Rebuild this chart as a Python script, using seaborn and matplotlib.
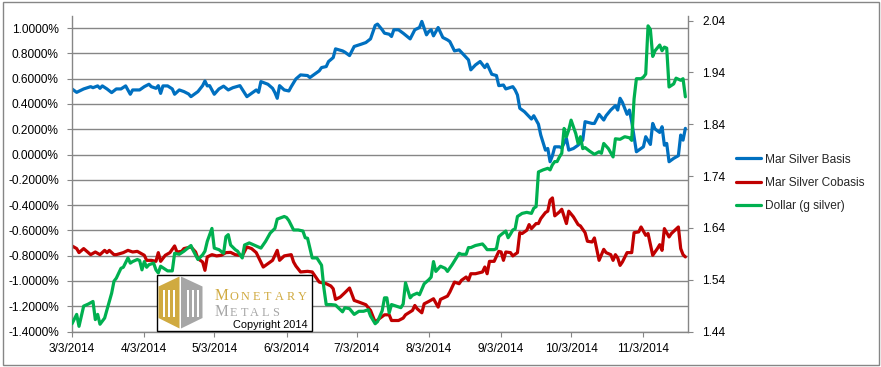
import numpy as np
import pandas as pd
import matplotlib
matplotlib.use("Agg")
import matplotlib.pyplot as plt
import seaborn as sns
from matplotlib.patches import Rectangle, Polygon
from matplotlib.lines import Line2D

# ---------------- data ----------------
start_date = "2014-03-03"
end_date = "2014-11-22"

series_names = ["Mar Silver Basis", "Mar Silver Cobasis", "Dollar (g silver)"]
series_colors = ["#0070C0", "#C00000", "#00B050"]

basis_days = [0, 2, 5, 8, 9, 11, 12, 13, 15, 17, 19, 21, 23, 25, 26, 29, 31, 33, 34, 36,
              37, 38, 39, 41, 43, 44, 46, 48, 50, 51, 53, 54, 56, 57, 58, 59, 61, 63, 65, 67,
              69, 72, 75, 77, 79, 80, 81, 84, 86, 87, 88, 89, 91, 93, 94, 96, 98, 101, 102, 104,
              106, 107, 109, 110, 112, 113, 116, 117, 119, 121, 124, 126, 128, 130, 131, 133, 134, 136, 137, 138,
              140, 142, 145, 147, 149, 150, 152, 153, 154, 155, 157, 159, 161, 162, 164, 166, 168, 170, 171, 173,
              175, 177, 178, 180, 182, 183, 185, 186, 189, 190, 191, 192, 194, 196, 197, 198, 200, 201, 203, 204,
              205, 206, 207, 209, 210, 212, 213, 215, 217, 219, 220, 223, 224, 226, 228, 229, 231, 233, 234, 235,
              236, 238, 239, 240, 242, 244, 245, 246, 248, 249, 250, 252, 253, 254, 255, 256, 258, 260, 261, 262,
              263]
basis_pct = [0.519, 0.492, 0.519, 0.537, 0.529, 0.543, 0.524, 0.543, 0.519, 0.490, 0.519, 0.519, 0.543, 0.477, 0.511, 0.511, 0.537, 0.556, 0.537, 0.524,
             0.545, 0.484, 0.543, 0.543, 0.519, 0.477, 0.511, 0.498, 0.479, 0.458, 0.484, 0.498, 0.545, 0.582, 0.543, 0.545, 0.477, 0.519, 0.541, 0.511,
             0.529, 0.545, 0.458, 0.484, 0.511, 0.492, 0.577, 0.556, 0.524, 0.490, 0.445, 0.545, 0.511, 0.503, 0.537, 0.598, 0.630, 0.625, 0.609, 0.635,
             0.662, 0.688, 0.696, 0.736, 0.767, 0.836, 0.820, 0.810, 0.783, 0.855, 0.873, 0.886, 0.915, 1.021, 1.032, 0.987, 0.960, 0.952, 0.934, 0.987,
             0.987, 0.960, 0.915, 0.987, 1.005, 1.053, 0.947, 0.974, 0.987, 0.939, 1.005, 0.926, 0.907, 0.894, 0.820, 0.828, 0.789, 0.749, 0.670, 0.709,
             0.736, 0.688, 0.715, 0.635, 0.625, 0.545, 0.550, 0.519, 0.537, 0.511, 0.471, 0.366, 0.339, 0.300, 0.281, 0.307, 0.240, 0.154, 0.035, 0.048,
             -0.057, -0.009, 0.061, 0.061, 0.053, 0.127, 0.035, 0.048, 0.074, 0.114, 0.260, 0.246, 0.246, 0.318, 0.273, 0.307, 0.352, 0.387, 0.352, 0.445,
             0.413, 0.318, 0.352, 0.260, 0.022, 0.048, 0.061, 0.141, 0.080, 0.246, 0.202, 0.175, 0.220, 0.074, 0.088, -0.057, -0.030, -0.009, 0.154, 0.114,
             0.207]

cobasis_days = [0, 2, 3, 5, 7, 8, 10, 12, 14, 15, 16, 18, 19, 22, 24, 26, 28, 31, 32, 34,
                36, 37, 38, 40, 42, 44, 45, 47, 48, 51, 53, 54, 56, 57, 58, 60, 62, 64, 66, 68,
                70, 73, 75, 77, 79, 82, 84, 86, 88, 89, 91, 94, 95, 96, 98, 101, 103, 104, 106, 109,
                111, 112, 113, 115, 117, 119, 121, 123, 126, 128, 130, 132, 134, 136, 137, 140, 142, 143, 146, 147,
                148, 150, 151, 153, 155, 157, 158, 161, 162, 164, 166, 167, 169, 170, 171, 173, 176, 177, 178, 179,
                181, 183, 184, 185, 186, 188, 189, 191, 192, 193, 195, 196, 197, 199, 200, 201, 203, 204, 205, 206,
                207, 209, 210, 212, 213, 215, 217, 218, 220, 221, 223, 224, 226, 228, 229, 231, 232, 233, 234, 235,
                236, 238, 240, 241, 243, 244, 246, 247, 249, 251, 252, 253, 254, 256, 257, 259, 260, 261, 262, 263]
cobasis_pct = [-0.723, -0.744, -0.776, -0.744, -0.776, -0.792, -0.771, -0.792, -0.758, -0.776, -0.758, -0.792, -0.792, -0.776, -0.758, -0.771, -0.766, -0.797, -0.837, -0.837,
               -0.845, -0.776, -0.845, -0.797, -0.776, -0.723, -0.771, -0.766, -0.744, -0.731, -0.771, -0.824, -0.850, -0.916, -0.810, -0.792, -0.802, -0.797, -0.776, -0.774,
               -0.792, -0.802, -0.731, -0.744, -0.776, -0.890, -0.863, -0.837, -0.758, -0.837, -0.802, -0.792, -0.850, -0.882, -0.929, -0.924, -0.929, -0.956, -1.009, -1.022,
               -1.040, -1.062, -1.146, -1.128, -1.093, -1.056, -1.154, -1.167, -1.188, -1.233, -1.326, -1.295, -1.268, -1.268, -1.313, -1.313, -1.294, -1.268, -1.233, -1.194,
               -1.220, -1.252, -1.181, -1.162, -1.141, -1.207, -1.146, -1.120, -1.088, -1.009, -1.022, -0.995, -0.969, -0.995, -0.943, -0.943, -0.929, -0.890, -0.943, -0.845,
               -0.845, -0.766, -0.771, -0.837, -0.771, -0.776, -0.802, -0.776, -0.618, -0.625, -0.599, -0.554, -0.586, -0.546, -0.546, -0.507, -0.459, -0.448, -0.361, -0.343,
               -0.485, -0.454, -0.433, -0.546, -0.448, -0.493, -0.554, -0.565, -0.618, -0.686, -0.692, -0.660, -0.837, -0.750, -0.776, -0.792, -0.837, -0.792, -0.818, -0.877,
               -0.850, -0.776, -0.776, -0.618, -0.612, -0.573, -0.639, -0.625, -0.797, -0.744, -0.713, -0.758, -0.586, -0.652, -0.625, -0.591, -0.573, -0.744, -0.792, -0.810]

dollar_days = [0, 2, 3, 5, 7, 9, 10, 11, 12, 14, 16, 17, 18, 19, 21, 22, 24, 25, 26, 28,
               29, 30, 31, 32, 33, 35, 36, 37, 38, 41, 43, 44, 46, 48, 51, 52, 54, 56, 57, 58,
               60, 61, 63, 65, 66, 67, 68, 70, 71, 73, 74, 76, 78, 81, 83, 85, 87, 88, 91, 92,
               93, 95, 97, 99, 100, 101, 103, 105, 107, 108, 109, 111, 113, 116, 117, 119, 121, 123, 125, 127,
               128, 130, 131, 133, 134, 135, 136, 137, 139, 141, 142, 143, 145, 146, 148, 149, 151, 153, 154, 155,
               156, 158, 160, 161, 163, 166, 167, 169, 170, 171, 173, 176, 177, 178, 181, 182, 183, 184, 186, 187,
               188, 189, 190, 191, 193, 195, 197, 198, 199, 200, 202, 204, 205, 206, 207, 208, 209, 210, 211, 212,
               213, 214, 216, 217, 218, 219, 220, 222, 224, 226, 227, 228, 230, 232, 233, 235, 237, 239, 240, 241,
               242, 244, 245, 246, 247, 248, 249, 250, 252, 253, 254, 255, 256, 258, 259, 261, 262, 263]
dollar_g = [1.455, 1.473, 1.450, 1.489, 1.493, 1.498, 1.463, 1.473, 1.454, 1.466, 1.498, 1.514, 1.537, 1.543, 1.562, 1.564, 1.582, 1.572, 1.575, 1.579,
            1.577, 1.559, 1.575, 1.564, 1.569, 1.572, 1.559, 1.553, 1.566, 1.557, 1.557, 1.591, 1.589, 1.595, 1.606, 1.596, 1.579, 1.588, 1.595, 1.614,
            1.639, 1.601, 1.598, 1.591, 1.623, 1.627, 1.607, 1.598, 1.595, 1.582, 1.607, 1.611, 1.607, 1.601, 1.614, 1.630, 1.639, 1.657, 1.662, 1.660,
            1.654, 1.636, 1.636, 1.634, 1.621, 1.620, 1.582, 1.582, 1.568, 1.524, 1.492, 1.492, 1.491, 1.478, 1.486, 1.484, 1.473, 1.479, 1.479, 1.482,
            1.470, 1.455, 1.459, 1.480, 1.505, 1.505, 1.476, 1.492, 1.489, 1.486, 1.493, 1.534, 1.505, 1.510, 1.514, 1.511, 1.532, 1.540, 1.545, 1.575,
            1.556, 1.566, 1.562, 1.556, 1.569, 1.591, 1.589, 1.589, 1.602, 1.602, 1.606, 1.609, 1.604, 1.598, 1.598, 1.600, 1.623, 1.627, 1.634, 1.621,
            1.628, 1.636, 1.638, 1.662, 1.668, 1.670, 1.668, 1.678, 1.681, 1.748, 1.752, 1.755, 1.752, 1.762, 1.768, 1.768, 1.777, 1.784, 1.832, 1.816,
            1.829, 1.848, 1.822, 1.803, 1.816, 1.793, 1.795, 1.788, 1.782, 1.787, 1.784, 1.803, 1.793, 1.777, 1.812, 1.811, 1.816, 1.814, 1.809, 1.889,
            1.928, 1.928, 1.931, 1.937, 2.030, 2.023, 1.971, 1.982, 1.993, 1.982, 1.989, 1.987, 1.912, 1.918, 1.929, 1.925, 1.928, 1.893]

tick_dates = ["2014-03-03", "2014-04-03", "2014-05-03", "2014-06-03", "2014-07-03",
              "2014-08-03", "2014-09-03", "2014-10-03", "2014-11-03"]
tick_labels = ["3/3/2014", "4/3/2014", "5/3/2014", "6/3/2014", "7/3/2014",
               "8/3/2014", "9/3/2014", "10/3/2014", "11/3/2014"]
left_ticks = [-1.4, -1.2, -1.0, -0.8, -0.6, -0.4, -0.2, 0.0, 0.2, 0.4, 0.6, 0.8, 1.0]
left_lim = (-1.4, 1.1)
right_ticks = [1.44, 1.54, 1.64, 1.74, 1.84, 1.94, 2.04]
right_lim = (1.44, 2.05)

# ---------------- build tables ----------------
t0 = pd.Timestamp(start_date)
def make_df(days, vals):
    return pd.DataFrame({"date": t0 + pd.to_timedelta(days, unit="D"), "value": vals})

df_basis = make_df(basis_days, basis_pct)
df_cobasis = make_df(cobasis_days, cobasis_pct)
df_dollar = make_df(dollar_days, dollar_g)

# ---------------- figure ----------------
sns.set_style("white")
plt.rcParams["font.family"] = ["Liberation Sans", "DejaVu Sans"]

W, H = 881, 367
fig = plt.figure(figsize=(W / 100, H / 100), dpi=100)
fig.patch.set_facecolor("white")

x0, x1, ytop, ybot = 72, 687.7, 15.5, 331.5
ax = fig.add_axes([x0 / W, (H - ybot) / H, (x1 - x0) / W, (ybot - ytop) / H])
ax2 = ax.twinx()

grid_c = "#868686"
lw = 2.3

sns.lineplot(data=df_basis, x="date", y="value", ax=ax, color=series_colors[0],
             linewidth=lw, estimator=None, legend=False)
sns.lineplot(data=df_cobasis, x="date", y="value", ax=ax, color=series_colors[1],
             linewidth=lw, estimator=None, legend=False)
sns.lineplot(data=df_dollar, x="date", y="value", ax=ax2, color=series_colors[2],
             linewidth=lw, estimator=None, legend=False)

for a in (ax, ax2):
    for l in a.get_lines():
        l.set_solid_joinstyle("round")

ax.set_xlim(pd.Timestamp(start_date), pd.Timestamp(end_date))
ax.set_ylim(*left_lim)
ax2.set_ylim(*right_lim)

ax.set_yticks(left_ticks)
ax.set_yticklabels([f"{v:.4f}%" for v in left_ticks])
ax2.set_yticks(right_ticks)
ax2.set_yticklabels([f"{v:.2f}" for v in right_ticks])
ax.set_xticks(pd.to_datetime(tick_dates))
ax.set_xticklabels(tick_labels)

ax.set_xlabel("")
ax.set_ylabel("")
ax2.set_xlabel("")
ax2.set_ylabel("")

ax.yaxis.grid(True, color=grid_c, linewidth=1.0)
ax.xaxis.grid(False)
ax2.grid(False)
ax.set_axisbelow(True)

for a in (ax, ax2):
    for s in a.spines.values():
        s.set_visible(False)
ax.spines["left"].set_visible(True)
ax.spines["bottom"].set_visible(True)
ax2.spines["right"].set_visible(True)
for s in (ax.spines["left"], ax.spines["bottom"], ax2.spines["right"]):
    s.set_color(grid_c)
    s.set_linewidth(1.0)

fs = 8.6
ax.tick_params(axis="y", which="major", direction="out", length=3.5, width=0.8,
               color=grid_c, labelsize=fs, labelcolor="black", pad=6, left=True)
ax.tick_params(axis="x", which="major", direction="out", length=3.5, width=0.8,
               color=grid_c, labelsize=fs, labelcolor="black", pad=5, bottom=True)
ax2.tick_params(axis="y", which="major", direction="out", length=3.5, width=0.8,
                color=grid_c, labelsize=fs, labelcolor="black", pad=7, right=True)

# legend
handles = [Line2D([0], [0], color=c, linewidth=lw) for c in series_colors]
fig.legend(handles, series_names, loc="center left",
           bbox_to_anchor=(736 / W, 1 - 183 / H), frameon=False, fontsize=fs,
           handlelength=2.1, handletextpad=0.3, labelspacing=0.95,
           borderpad=0, borderaxespad=0)

# ---------------- overlay: border and logo ----------------
ov = fig.add_axes([0, 0, 1, 1], zorder=10)
ov.set_xlim(0, W)
ov.set_ylim(H, 0)
ov.axis("off")
ov.patch.set_alpha(0)

ov.add_patch(Rectangle((2.5, 1.5), 876, 363, fill=False, edgecolor=grid_c, linewidth=1.0))

# logo box
ov.add_patch(Rectangle((157, 275), 155, 56, facecolor="white", edgecolor="black", linewidth=1.0))
gold = "#D0AA40"
grey = "#A6A6A6"
ov.add_patch(Polygon([(179.5, 276.5), (158.5, 286.5), (158.5, 318), (179.5, 328.5)],
                     closed=True, facecolor=gold, edgecolor="none"))
ov.add_patch(Polygon([(181, 276.5), (202.5, 286.5), (202.5, 318), (181, 328.5)],
                     closed=True, facecolor=grey, edgecolor="none"))
for sx in (162.5, 167.5, 172.5, 186.5, 191.5, 196.5):
    ov.add_patch(Rectangle((sx, 290), 2.0, 27, facecolor="white", edgecolor="none"))

serif = ["Liberation Serif", "DejaVu Serif"]
ov.text(215, 300.5, "M", fontsize=11.2, color=gold, family=serif, ha="left", va="baseline")
for i, ch in enumerate("ONETARY"):
    ov.text(234 + i * 11.3, 300.5, ch, fontsize=8.8, color=gold, family=serif,
            ha="center", va="baseline")
ov.text(215, 315.5, "M", fontsize=11.2, color=grey, family=serif, ha="left", va="baseline")
for i, ch in enumerate("ETALS"):
    ov.text(233.5 + i * 10.6, 315.5, ch, fontsize=8.8, color=grey, family=serif,
            ha="center", va="baseline")
ov.text(233, 327.5, "Copyright 2014", fontsize=7.9, color="black",
        family=["Liberation Sans", "DejaVu Sans"], ha="left", va="baseline")

fig.savefig("out.png", dpi=100, facecolor="white")
